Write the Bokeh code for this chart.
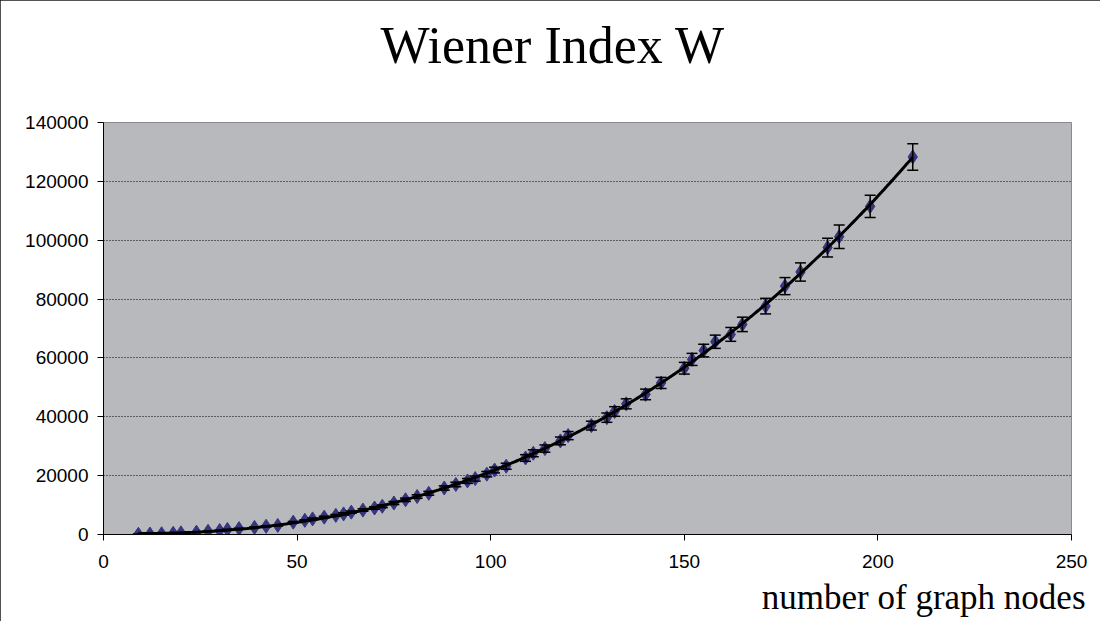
import numpy as np
from bokeh.plotting import figure
from bokeh.models import (Range1d, FixedTicker, BasicTickFormatter, Title, Whisker, TeeHead,
                          ColumnDataSource)
from bokeh.embed import file_html
from bokeh.resources import INLINE

# ---- data ----
nodes = [9, 12, 15, 18, 20, 24, 27, 30, 32, 35, 39, 42, 45, 49, 52, 54, 57, 60, 62, 64,
         67, 70, 72, 75, 78, 81, 84, 88, 91, 94, 96, 99, 101, 104, 109, 111, 114, 118, 120,
         126, 130, 132, 135, 140, 144, 150, 152, 155, 158, 162, 165, 171, 176, 180, 187,
         190, 198, 209]
wiener = [80, 150, 250, 400, 550, 800, 1100, 1350, 1700, 2000, 2400, 2800, 3100, 4200,
          4800, 5300, 5900, 6500, 7000, 7600, 8300, 9000, 9600, 10700, 11800, 12900, 14000,
          15800, 17000, 18200, 19000, 20500, 21900, 23200, 26000, 27600, 29200, 31800, 33600,
          37000, 39700, 41800, 44400, 47600, 51500, 56500, 59500, 62500, 65500, 68000, 71400,
          77600, 84400, 89200, 97500, 101200, 111500, 128300]
errors = [10, 20, 30, 40, 50, 60, 80, 90, 110, 120, 140, 160, 170, 220, 250, 270, 300, 330,
          350, 380, 410, 440, 470, 520, 560, 600, 650, 720, 770, 820, 860, 920, 970, 1020,
          1120, 1170, 1230, 1320, 1380, 1500, 1580, 1630, 1700, 1800, 1880, 1990, 2050, 2150,
          2250, 2350, 2450, 2650, 2900, 3100, 3200, 4000, 3800, 4500]
x_ticks = [0, 50, 100, 150, 200, 250]
y_ticks = [0, 20000, 40000, 60000, 80000, 100000, 120000, 140000]
title_text = "Wiener Index W"
x_label = "number of graph nodes"

src = ColumnDataSource(dict(
    n=nodes, w=wiener,
    up=[w + e for w, e in zip(wiener, errors)],
    lo=[w - e for w, e in zip(wiener, errors)],
))

p = figure(width=1100, height=621, output_backend="svg", toolbar_location=None,
           x_range=Range1d(0, 250), y_range=Range1d(0, 140000),
           min_border_left=103, min_border_right=29, min_border_top=122, min_border_bottom=87)
p.styles = {"outline": "2px solid #1a1a1a", "outline-offset": "-2px"}
p.background_fill_color = "#B8B9BD"
p.border_fill_color = "white"
p.outline_line_color = "#8a8a8a"
p.outline_line_width = 1

# visible title (built-in slot, outermost)
p.title.text = title_text
p.title.align = "left"
p.title.offset = 277
p.title.text_font = "Liberation Serif"
p.title.text_font_size = "52px"
p.title.text_font_style = "normal"
p.title.text_color = "black"
p.title.standoff = 16

# white spacer between the title and the plot area
spacer = Title(text=".", text_font_size="10px", text_color="white", standoff=31)
p.add_layout(spacer, "above")

# axis label (bottom right)
xl = Title(text=x_label, align="right", text_font="Liberation Serif", text_font_size="35px",
           text_font_style="normal", text_color="black", offset=-14, standoff=10)
p.add_layout(xl, "below")

# axes
for ax in (p.xaxis[0], p.yaxis[0]):
    ax.axis_line_color = "black"
    ax.axis_line_width = 1
    ax.major_tick_line_color = "black"
    ax.major_tick_out = 6
    ax.major_tick_in = 0
    ax.minor_tick_line_color = None
    ax.major_label_text_font = "Liberation Sans"
    ax.major_label_text_font_size = "19px"
    ax.major_label_text_color = "black"
p.xaxis.ticker = FixedTicker(ticks=x_ticks)
p.yaxis.ticker = FixedTicker(ticks=y_ticks)
p.yaxis.formatter = BasicTickFormatter(use_scientific=False)
p.xaxis.major_label_standoff = 14
p.yaxis.major_label_standoff = 9

p.xgrid.grid_line_color = None
p.ygrid.grid_line_color = "black"
p.ygrid.grid_line_dash = "1 2"
p.ygrid.grid_line_width = 1
p.ygrid.bounds = (10000, 130000)

# markers
p.scatter("n", "w", source=src, marker="diamond", size=14,
          fill_color="#36357F", line_color="#36357F")

# error bars
wh = Whisker(base="n", upper="up", lower="lo", source=src, line_color="black", line_width=1.5,
             upper_head=TeeHead(size=11, line_color="black", line_width=1.5),
             lower_head=TeeHead(size=11, line_color="black", line_width=1.5),
             level="glyph")
p.add_layout(wh)

# trend line (cubic fit of the data)
coef = np.polyfit(nodes, wiener, 3)
xs = np.linspace(min(nodes), max(nodes), 300)
p.line(xs, np.polyval(coef, xs), line_color="black", line_width=3)

open("out.html", "w").write(file_html(p, INLINE))
